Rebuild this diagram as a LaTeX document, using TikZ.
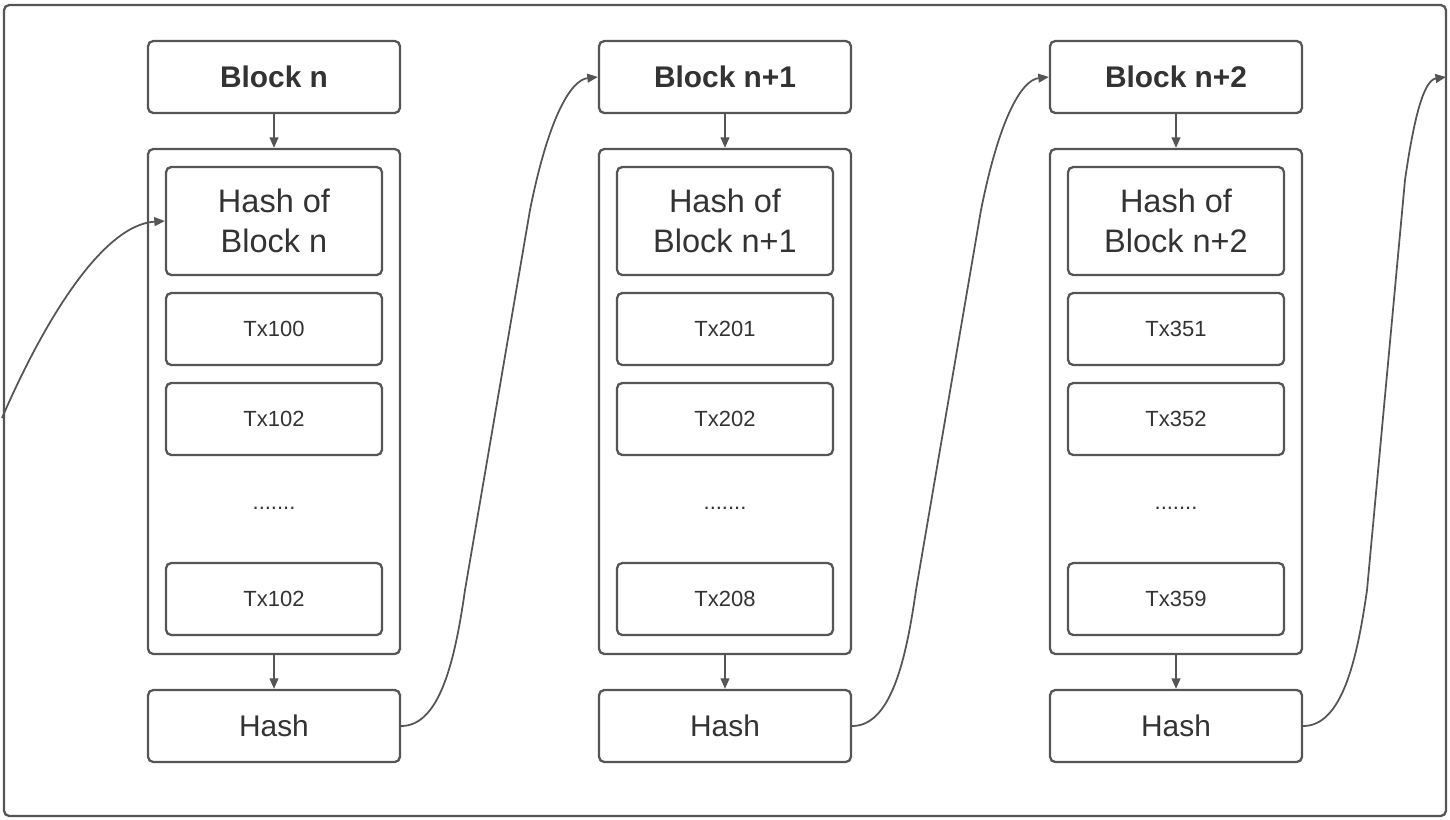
\documentclass[tikz,border=0pt]{standalone}
\usepackage{fontspec}
\setmainfont{Liberation Sans}
\usetikzlibrary{arrows.meta}
\definecolor{ln}{HTML}{555555}
\definecolor{tx}{HTML}{333333}
\begin{document}
\begin{tikzpicture}[x=0.02cm,y=-0.02cm,
  box/.style={draw=ln,line width=1.3pt,rounded corners=3pt,inner sep=0pt,text=tx,align=center},
  title/.style={box,minimum width=252*0.02cm,minimum height=72*0.02cm,font=\fontsize{17}{20}\selectfont\bfseries},
  cont/.style={box,minimum width=252*0.02cm,minimum height=505*0.02cm},
  hof/.style={box,minimum width=216*0.02cm,minimum height=108*0.02cm,font=\fontsize{18.5}{23}\selectfont},
  txb/.style={box,minimum width=216*0.02cm,minimum height=72*0.02cm,font=\fontsize{12.5}{15}\selectfont},
  hsh/.style={box,minimum width=252*0.02cm,minimum height=72*0.02cm,font=\fontsize{17}{20}\selectfont},
  arr/.style={draw=ln,line width=1pt,-{Triangle[length=6pt,width=5pt]}}]
\useasboundingbox (0,0) rectangle (1450,819);
\node[box,minimum width=1442*0.02cm,minimum height=811*0.02cm] (frame) at (725,410.5) {};
\foreach \i/\dx/\t/\h/\a/\b/\c in {1/0/Block n/Block n/Tx100/Tx102/Tx102, 2/451/Block n+1/Block n+1/Tx201/Tx202/Tx208, 3/902/Block n+2/Block n+2/Tx351/Tx352/Tx359}{
  \node[title] (t\i) at (274+\dx,77) {\t};
  \node[cont] (c\i) at (274+\dx,401.5) {};
  \node[hof] (h\i) at (274+\dx,221) {Hash of\\\h};
  \node[txb] (a\i) at (274+\dx,329) {\a};
  \node[txb] (b\i) at (274+\dx,419) {\b};
  \node[text=tx,font=\fontsize{12.5}{15}\selectfont] (d\i) at (274+\dx,508) {.......};
  \node[txb] (e\i) at (274+\dx,599) {\c};
  \node[hsh] (s\i) at (274+\dx,726) {Hash};
  \draw[arr] (t\i) -- (c\i);
  \draw[arr] (c\i) -- (s\i);
}
\coordinate (in) at (2,418);
\coordinate (out) at (1446,77);
\draw[arr] (in) .. controls (40,330) and (100,225) .. (h1.west);
\draw[arr] (s1.east) .. controls (440,726) and (455,660) .. (465,590) -- (530,210) .. controls (548,120) and (570,80) .. (t2.west);
\draw[arr] (s2.east) .. controls (891,726) and (906,660) .. (916,590) -- (981,210) .. controls (999,120) and (1021,80) .. (t3.west);
\draw[arr] (s3.east) .. controls (1342,726) and (1357,660) .. (1367,590) -- (1405,180) .. controls (1415,110) and (1425,80) .. (out);
\end{tikzpicture}
\end{document}
